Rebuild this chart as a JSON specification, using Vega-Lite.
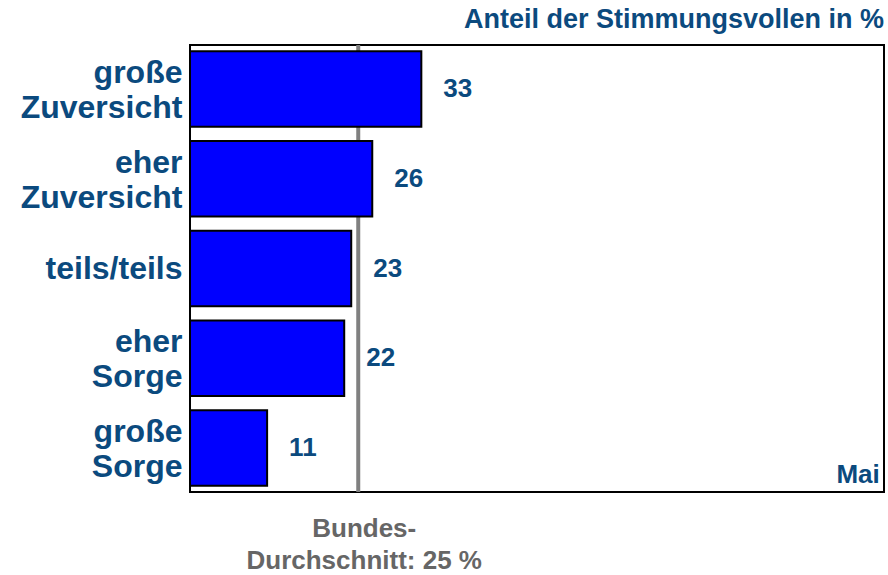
{
  "$schema": "https://vega.github.io/schema/vega-lite/v6.json",
  "autosize": "none",
  "width": 694,
  "height": 447,
  "padding": {"left": 190, "top": 45, "right": 4, "bottom": 83},
  "background": "white",
  "config": {
    "font": "Liberation Sans",
    "view": {"stroke": "black", "strokeWidth": 2}
  },
  "title": {
    "text": "Anteil der Stimmungsvollen in %",
    "anchor": "end",
    "orient": "top",
    "fontSize": 27,
    "fontWeight": "bold",
    "color": "#0b4a7e",
    "offset": 9
  },
  "datasets": {
    "bars": [
      {"cat": "große|Zuversicht", "value": 33},
      {"cat": "eher|Zuversicht", "value": 26},
      {"cat": "teils/teils", "value": 23},
      {"cat": "eher|Sorge", "value": 22},
      {"cat": "große|Sorge", "value": 11}
    ],
    "avg": [
      {"value": 24, "cat": "große|Sorge", "label": "Bundes-|Durchschnitt: 25 %"}
    ],
    "month": [
      {"value": 98.4, "cat": "große|Sorge", "label": "Mai"}
    ]
  },
  "encoding": {
    "y": {
      "field": "cat",
      "type": "nominal",
      "sort": ["große|Zuversicht", "eher|Zuversicht", "teils/teils", "eher|Sorge", "große|Sorge"],
      "scale": {"paddingInner": 0.16, "paddingOuter": 0.07},
      "axis": {
        "title": null,
        "ticks": false,
        "domain": false,
        "labelPadding": 8,
        "labelFontSize": 32,
        "labelFontWeight": "bold",
        "labelColor": "#0b4a7e",
        "labelLineHeight": 35,
        "labelOffset": {"condition": {"test": "datum.value === 'teils/teils'", "value": 0}, "value": -16},
        "labelExpr": "split(datum.label, '|')"
      }
    },
    "x": {
      "field": "value",
      "type": "quantitative",
      "scale": {"domain": [0, 99], "nice": false, "zero": true},
      "axis": null
    }
  },
  "layer": [
    {
      "data": {"name": "avg"},
      "mark": {"type": "rule", "color": "#808080", "strokeWidth": 4},
      "encoding": {"y": null}
    },
    {
      "data": {"name": "bars"},
      "mark": {"type": "bar", "color": "#0000ff", "stroke": "black", "strokeWidth": 2}
    },
    {
      "data": {"name": "bars"},
      "mark": {"type": "text", "align": "left", "baseline": "middle", "dx": 22, "fontSize": 26, "fontWeight": "bold", "color": "#0b4a7e"},
      "encoding": {"text": {"field": "value", "type": "quantitative"}}
    },
    {
      "data": {"name": "avg"},
      "mark": {"type": "text", "align": "center", "baseline": "top", "dx": 6, "dy": 68, "fontSize": 26, "fontWeight": "bold", "color": "#666666", "lineBreak": "|", "lineHeight": 32},
      "encoding": {"text": {"field": "label"}}
    },
    {
      "data": {"name": "month"},
      "mark": {"type": "text", "align": "right", "baseline": "middle", "dy": 27, "fontSize": 26, "fontWeight": "bold", "color": "#0b4a7e"},
      "encoding": {"text": {"field": "label"}}
    }
  ]
}
